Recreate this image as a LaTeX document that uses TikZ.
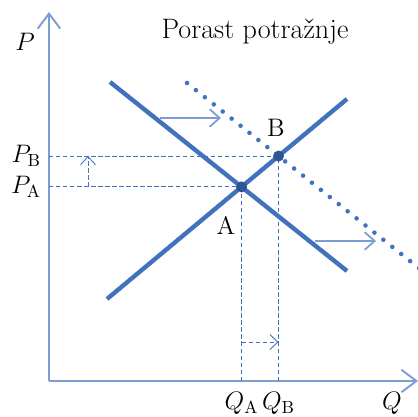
\documentclass[tikz,border=0pt]{standalone}
\usetikzlibrary{arrows.meta,positioning,calc}
\definecolor{linblue}{RGB}{66,113,190}
\definecolor{axblue}{RGB}{125,158,212}
\definecolor{dotblue}{RGB}{45,85,150}
\tikzset{>=Straight Barb,
  axis/.style={draw=axblue, line width=1.1pt, -{Straight Barb[length=3mm,width=4.5mm]}},
  curve/.style={draw=linblue, line width=2.5pt},
  newcurve/.style={draw=linblue, line width=2.6pt, line cap=round, dash pattern=on 0pt off 6.5pt},
  guide/.style={draw=linblue, line width=0.5pt, dash pattern=on 2.5pt off 1.5pt},
  shiftarr/.style={draw=axblue, line width=1pt, -{Straight Barb[length=2mm,width=3.5mm]}},
  guidearr/.style={guide, -{Straight Barb[length=1.6mm,width=3mm]}},
  lbl/.style={font=\Large}}

\begin{document}
\begin{tikzpicture}[x=0.02cm, y=0.02cm]
  \useasboundingbox (0,0) rectangle (418,416);
  % axes
  \coordinate (O) at (49,35);
  \coordinate (ytop) at (49,404);
  \coordinate (xend) at (418,35);
  \draw[axis] (O) -- (ytop);
  \draw[axis] (O) -- (xend);
  \node[lbl] (plab) at (25,374) {$P$};
  \node[lbl] (qlab) at (392,13) {$Q$};
  \node[font=\fontsize{16}{18}\selectfont] (title) at (255,384) {Porast potražnje};
  % demand, supply and shifted demand
  \coordinate (d1) at (110,334);
  \coordinate (d2) at (347,145);
  \coordinate (s1) at (107,117);
  \coordinate (s2) at (347,317);
  \coordinate (n1) at (187,333);
  \coordinate (n2) at (420,147);
  \draw[curve] (d1) -- (d2);
  \draw[curve] (s1) -- (s2);
  \draw[newcurve] (n1) -- (n2);
  \coordinate (A) at (intersection of d1--d2 and s1--s2);
  \coordinate (B) at (intersection of n1--n2 and s1--s2);
  % guides to the axes
  \coordinate (pa) at (O |- A);
  \coordinate (pb) at (O |- B);
  \coordinate (qa) at (O -| A);
  \coordinate (qb) at (O -| B);
  \draw[guide] (pa) -- (A);
  \draw[guide] (pb) -- (B);
  \draw[guide] (qa) -- (A);
  \draw[guide] (qb) -- (B);
  \fill[dotblue] (A) circle (5.5);
  \fill[dotblue] (B) circle (5.5);
  \node[lbl, left=1pt of pa] (palab) {$P_{\mathrm{A}}$};
  \node[lbl, left=1pt of pb] (pblab) {$P_{\mathrm{B}}$};
  \node[lbl, below=3pt of qa] (qalab) {$Q_{\mathrm{A}}$};
  \node[lbl, below=3pt of qb] (qblab) {$Q_{\mathrm{B}}$};
  \node[lbl] (alab) at (226,191) {A};
  \node[lbl] (blab) at (276,288) {B};
  % shift arrows
  \coordinate (t1) at (160,298);
  \coordinate (t2) at (221,298);
  \coordinate (b1) at (315,175);
  \coordinate (b2) at (376,175);
  \draw[shiftarr] (t1) -- (t2);
  \draw[shiftarr] (b1) -- (b2);
  \coordinate (u1) at ($(pa)+(39,0)$);
  \coordinate (u2) at ($(pb)+(39,0)$);
  \draw[guidearr] (u1) -- (u2);
  \coordinate (r1) at ($(qa)+(0,39)$);
  \coordinate (r2) at ($(qb)+(0,39)$);
  \draw[guidearr] (r1) -- (r2);
\end{tikzpicture}
\end{document}
